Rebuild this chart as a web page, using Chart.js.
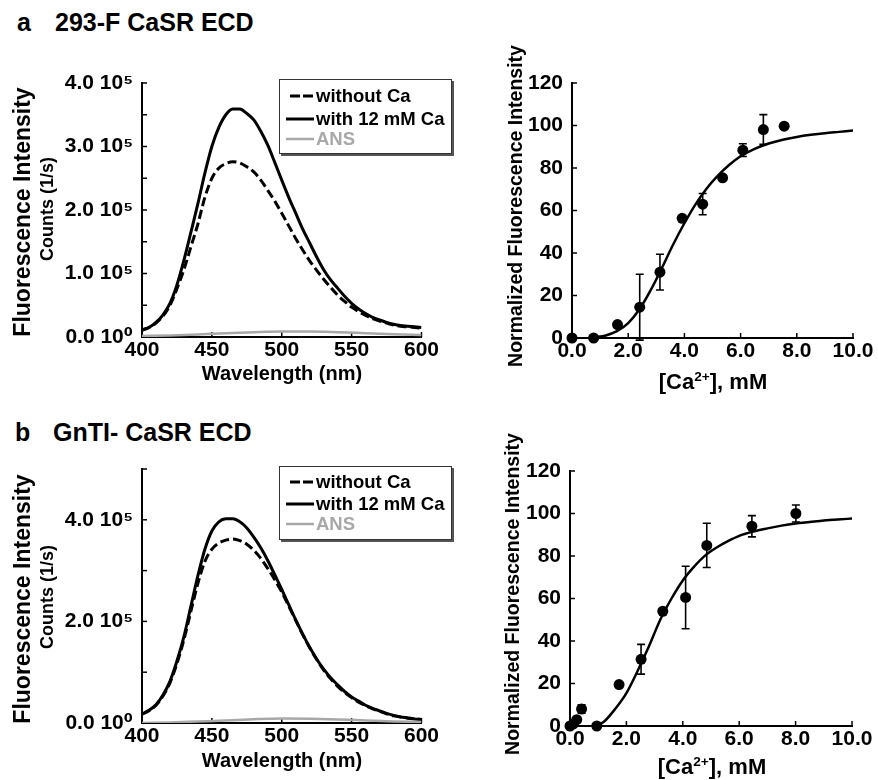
<!DOCTYPE html>
<html><head><meta charset="utf-8">
<script src="https://cdn.jsdelivr.net/npm/chart.js@4.4.0/dist/chart.umd.min.js"></script>
<style>
html,body{margin:0;padding:0;background:#fff}
body{width:878px;height:780px;position:relative;overflow:hidden;font-family:'Liberation Sans',Arial,'DejaVu Sans',sans-serif;font-weight:bold;color:#000}
canvas{position:absolute}
.t{position:absolute;white-space:nowrap;line-height:1}
.c{transform:translate(-50%,-50%)}
.r{transform:translate(-50%,-50%) rotate(-90deg)}
sup{font-size:62%;vertical-align:0;position:relative;top:-0.62em}
.lg{position:absolute;border:1px solid #333;box-shadow:2px 2px 0 #555;background:#fff}
.lg .row{position:absolute;left:0;height:20px;width:100%}
.lg svg{position:absolute;left:0;top:0}
.lg span{position:absolute;left:36px;top:1px;font-size:18.5px;line-height:1}
</style></head><body>

<div class="t" style="left:17px;top:10px;font-size:25px">a</div>
<div class="t" style="left:55px;top:10px;font-size:25px">293-F CaSR ECD</div>
<div class="t" style="left:15px;top:420px;font-size:25px">b</div>
<div class="t" style="left:53px;top:420px;font-size:25px">GnTI- CaSR ECD</div>

<canvas id="aL" width="440" height="390" style="left:0;top:0;width:440px;height:390px"></canvas>
<canvas id="aR" width="438" height="390" style="left:440px;top:0;width:438px;height:390px"></canvas>
<canvas id="bL" width="440" height="390" style="left:0;top:390px;width:440px;height:390px"></canvas>
<canvas id="bR" width="438" height="390" style="left:440px;top:390px;width:438px;height:390px"></canvas>

<div class="t r" style="left:21.5px;top:212px;font-size:23px">Fluorescence Intensity</div>
<div class="t r" style="left:47px;top:209px;font-size:18px">Counts (1/s)</div>
<div class="t c" style="left:282px;top:373px;font-size:20px">Wavelength (nm)</div>
<div class="t r" style="left:516px;top:206px;font-size:19.5px">Normalized Fluorescence Intensity</div>
<div class="t c" style="left:713px;top:382px;font-size:22px">[Ca<sup>2+</sup>], mM</div>

<div class="t r" style="left:22px;top:599px;font-size:23px">Fluorescence Intensity</div>
<div class="t r" style="left:47px;top:597px;font-size:18px">Counts (1/s)</div>
<div class="t c" style="left:282px;top:760px;font-size:20px">Wavelength (nm)</div>
<div class="t r" style="left:513px;top:594px;font-size:19.5px">Normalized Fluorescence Intensity</div>
<div class="t c" style="left:712px;top:767px;font-size:22px">[Ca<sup>2+</sup>], mM</div>

<div class="lg" id="lgA" style="left:279px;top:79px;width:171px;height:73px"></div>
<div class="lg" id="lgB" style="left:279px;top:466px;width:171px;height:72px"></div>

<script>
// ---------- data ----------
const wavelengths = [400,405,410,415,420,425,430,435,440,445,450,455,460,465,470,475,480,485,490,495,500,505,510,515,520,525,530,535,540,545,550,555,560,565,570,575,580,585,590,595,600];
const aWithCa    = [0.11,0.15,0.23,0.35,0.53,0.82,1.21,1.65,2.10,2.58,3.00,3.30,3.50,3.59,3.59,3.52,3.42,3.24,3.02,2.75,2.47,2.20,1.95,1.70,1.48,1.26,1.06,0.90,0.77,0.64,0.53,0.44,0.37,0.31,0.27,0.23,0.20,0.18,0.17,0.16,0.15];
const aWithoutCa = [0.11,0.15,0.22,0.33,0.50,0.76,1.06,1.42,1.78,2.20,2.50,2.66,2.73,2.76,2.74,2.68,2.60,2.47,2.31,2.14,1.95,1.75,1.55,1.37,1.20,1.05,0.91,0.78,0.66,0.56,0.47,0.40,0.34,0.29,0.25,0.22,0.19,0.17,0.16,0.15,0.14];
const bWithCa    = [0.18,0.25,0.36,0.55,0.82,1.22,1.70,2.30,2.90,3.42,3.78,3.96,4.02,4.02,3.96,3.84,3.66,3.45,3.20,2.92,2.63,2.33,2.03,1.75,1.49,1.26,1.06,0.89,0.75,0.62,0.51,0.43,0.35,0.29,0.24,0.19,0.15,0.12,0.10,0.08,0.07];
const bWithoutCa = [0.17,0.24,0.35,0.53,0.79,1.17,1.64,2.20,2.75,3.18,3.42,3.54,3.60,3.62,3.59,3.52,3.40,3.24,3.04,2.82,2.58,2.30,2.02,1.74,1.48,1.25,1.04,0.87,0.72,0.60,0.50,0.41,0.34,0.28,0.23,0.18,0.14,0.12,0.10,0.08,0.07];
const ansWavelengths = [400,420,440,460,480,500,520,540,560,580,600];
const aANS = [0.015,0.025,0.04,0.06,0.075,0.085,0.085,0.075,0.06,0.045,0.03];
const bANS = [0.0,0.01,0.03,0.05,0.075,0.09,0.085,0.07,0.05,0.03,0.02];

const aSpecYTicks = ['0.0 10\u2070','1.0 10\u2075','2.0 10\u2075','3.0 10\u2075','4.0 10\u2075'];
const bSpecYTicks = ['0.0 10\u2070','2.0 10\u2075','4.0 10\u2075'];
const specXTicks = ['400','450','500','550','600'];
const titrXTicks = ['0.0','2.0','4.0','6.0','8.0','10.0'];
const titrYTicks = ['0','20','40','60','80','100','120'];

const aCa   = [0,0.77,1.62,2.41,3.13,3.92,4.65,5.36,6.08,6.81,7.55];
const aNorm = [0,0,6.3,14.5,31,56.3,63,75.4,88.4,98.1,99.7];
const aErr  = [0,0,0,15.5,8.4,0,5,0,3,7,0];
const aFitCa   = [0.8,1.2,1.6,2.0,2.4,2.8,3.2,3.6,4.0,4.4,4.8,5.2,5.6,6.0,6.5,7.0,7.5,8.0,8.5,9.0,9.5,10.0];
const aFitNorm = [0.3,1.2,3.2,7,13.5,22.5,33,44,54,63,70.5,76.5,81.5,85.5,89,91.5,93.3,94.6,95.6,96.4,97,97.6];

const bCa   = [0,0.12,0.24,0.41,0.95,1.74,2.52,3.29,4.1,4.85,6.45,8.01];
const bNorm = [0,1,3,8,0,19.5,31.4,54,60.5,85,94,100];
const bErr  = [0,0,0,2,0,0,7,0,14.7,10.4,5,4];
const bFitCa   = [0.9,1.2,1.6,2.0,2.4,2.8,3.2,3.6,4.0,4.4,4.8,5.2,5.6,6.0,6.5,7.0,7.5,8.0,8.5,9.0,9.5,10.0];
const bFitNorm = [0,2,8,15.5,26,37.5,50,60,68.5,75,80.3,84,87,89.5,91.5,93,94.3,95.3,96,96.7,97.2,97.6];

// ---------- helpers ----------
const FONT = "'Liberation Sans', Arial, 'DejaVu Sans', sans-serif";
const TICK_FONT = {size: 21, weight: 'bold'};
Chart.defaults.font.family = FONT;
Chart.defaults.font.weight = 'bold';
Chart.defaults.color = '#000';
const zip = (xs, ys) => xs.map((x, i) => ({x, y: ys[i]}));

const inwardTicks = {
  id: 'inwardTicks',
  beforeDatasetsDraw(chart, args, opts) {
    const ctx = chart.ctx, ca = chart.chartArea;
    const xs = chart.scales.x, ys = chart.scales.y;
    ctx.save();
    ctx.strokeStyle = '#000';
    ctx.lineWidth = 1.5;
    xs.ticks.forEach(t => {
      const px = xs.getPixelForValue(t.value);
      ctx.beginPath(); ctx.moveTo(px, ca.bottom); ctx.lineTo(px, ca.bottom - opts.len); ctx.stroke();
    });
    ys.ticks.forEach(t => {
      const py = ys.getPixelForValue(t.value);
      ctx.beginPath(); ctx.moveTo(ca.left, py); ctx.lineTo(ca.left + opts.len, py); ctx.stroke();
    });
    ctx.restore();
  }
};

const errorBars = {
  id: 'errorBars',
  afterDatasetsDraw(chart, args, opts) {
    if (!opts || !opts.errors) return;
    const ds = chart.data.datasets[opts.datasetIndex];
    const xs = chart.scales.x, ys = chart.scales.y, ctx = chart.ctx;
    ctx.save();
    ctx.strokeStyle = '#000';
    ctx.lineWidth = 1.6;
    ds.data.forEach((p, i) => {
      const e = opts.errors[i];
      if (!e) return;
      const px = xs.getPixelForValue(p.x);
      const yt = ys.getPixelForValue(p.y + e);
      const yb = ys.getPixelForValue(p.y - e);
      ctx.beginPath();
      ctx.moveTo(px, yt); ctx.lineTo(px, yb);
      ctx.moveTo(px - 4, yt); ctx.lineTo(px + 4, yt);
      ctx.moveTo(px - 4, yb); ctx.lineTo(px + 4, yb);
      ctx.stroke();
    });
    ctx.restore();
  }
};

function fixW(w) { return s => { s.width = w; }; }
function fixH(h) { return s => { s.height = h; }; }

function spectrumChart(id, withCa, withoutCa, ans, yMax, yStep, yLabelFn, geom) {
  return new Chart(document.getElementById(id), {
    type: 'scatter',
    data: {
      datasets: [
        {data: zip(ansWavelengths, ans), showLine: true, borderColor: '#a8a8a8', borderWidth: 2.5, pointRadius: 0, cubicInterpolationMode: 'monotone'},
        {data: zip(wavelengths, withoutCa), showLine: true, borderColor: '#000', borderWidth: 3, borderDash: [9, 4], pointRadius: 0, cubicInterpolationMode: 'monotone'},
        {data: zip(wavelengths, withCa), showLine: true, borderColor: '#000', borderWidth: 3, pointRadius: 0, cubicInterpolationMode: 'monotone'}
      ]
    },
    options: {
      responsive: false, animation: false, devicePixelRatio: 1,
      layout: {padding: {left: 0, right: geom.right, top: geom.top, bottom: 0}},
      plugins: {legend: {display: false}, tooltip: {enabled: false}, inwardTicks: {len: 5}},
      scales: {
        x: {
          type: 'linear', min: 400, max: 600,
          afterFit: fixH(geom.xh),
          grid: {display: false, drawTicks: false},
          border: {display: true, color: '#000', width: 2},
          ticks: {stepSize: 50, padding: 1, font: TICK_FONT, color: '#000', autoSkip: false, maxRotation: 0,
                  callback: v => specXTicks[Math.round((v - 400) / 50)]}
        },
        y: {
          min: 0, max: yMax,
          afterFit: fixW(geom.yw),
          grid: {display: false, drawTicks: false},
          border: {display: true, color: '#000', width: 2},
          ticks: {stepSize: yStep, padding: 9, font: TICK_FONT, color: '#000', autoSkip: false,
                  callback: yLabelFn}
        }
      }
    },
    plugins: [inwardTicks]
  });
}

function titrationChart(id, fx, fy, px, py, err, geom) {
  return new Chart(document.getElementById(id), {
    type: 'scatter',
    data: {
      datasets: [
        {data: zip(fx, fy), showLine: true, borderColor: '#000', borderWidth: 2.5, pointRadius: 0, cubicInterpolationMode: 'monotone'},
        {data: zip(px, py), showLine: false, pointRadius: 5.5, pointBackgroundColor: '#000', pointBorderWidth: 0, clip: false}
      ]
    },
    options: {
      responsive: false, animation: false, devicePixelRatio: 1,
      layout: {padding: {left: 0, right: geom.right, top: geom.top, bottom: 0}},
      plugins: {legend: {display: false}, tooltip: {enabled: false}, inwardTicks: {len: 5},
                errorBars: {datasetIndex: 1, errors: err}},
      scales: {
        x: {
          type: 'linear', min: 0, max: 10,
          afterFit: fixH(geom.xh),
          grid: {display: false, drawTicks: false},
          border: {display: true, color: '#000', width: 2},
          ticks: {stepSize: 2, padding: 1, font: TICK_FONT, color: '#000', autoSkip: false, maxRotation: 0,
                  callback: v => titrXTicks[Math.round(v / 2)]}
        },
        y: {
          min: 0, max: 120,
          afterFit: fixW(geom.yw),
          grid: {display: false, drawTicks: false},
          border: {display: true, color: '#000', width: 2},
          ticks: {stepSize: 20, padding: 9, font: TICK_FONT, color: '#000', autoSkip: false,
                  callback: v => titrYTicks[Math.round(v / 20)]}
        }
      }
    },
    plugins: [inwardTicks, errorBars]
  });
}

spectrumChart('aL', aWithCa, aWithoutCa, aANS, 4, 0.5,
  v => (Math.abs(v - Math.round(v)) < 1e-6 ? aSpecYTicks[Math.round(v)] : ''),
  {right: 18, top: 83, xh: 53, yw: 142});
spectrumChart('bL', bWithCa, bWithoutCa, bANS, 5, 1,
  v => (Math.round(v) % 2 === 0 ? bSpecYTicks[Math.round(v) / 2] : ''),
  {right: 18, top: 79, xh: 57, yw: 142});
titrationChart('aR', aFitCa, aFitNorm, aCa, aNorm, aErr, {right: 25, top: 83, xh: 52, yw: 132});
titrationChart('bR', bFitCa, bFitNorm, bCa, bNorm, bErr, {right: 26, top: 81, xh: 54, yw: 130});

// ---------- legends ----------
const legendItems = [
  {label: 'without Ca', color: '#000', dash: '10 3', x1: 10},
  {label: 'with 12 mM Ca', color: '#000', dash: '', x1: 6},
  {label: 'ANS', color: '#a8a8a8', dash: '', x1: 6}
];
function buildLegend(id, rowYs) {
  const box = document.getElementById(id);
  legendItems.forEach((it, i) => {
    const row = document.createElement('div');
    row.className = 'row';
    row.style.top = (rowYs[i] - 10) + 'px';
    row.innerHTML = '<svg width="36" height="20"><line x1="' + it.x1 + '" y1="10" x2="34" y2="10" stroke="' + it.color +
      '" stroke-width="' + (i === 2 ? 2.5 : 3) + '"' + (it.dash ? ' stroke-dasharray="' + it.dash + '"' : '') + '/></svg>' +
      '<span style="color:' + it.color + '">' + it.label + '</span>';
    box.appendChild(row);
  });
}
buildLegend('lgA', [16, 38.5, 59]);
buildLegend('lgB', [14.5, 36.5, 57]);
</script>
</body></html>
